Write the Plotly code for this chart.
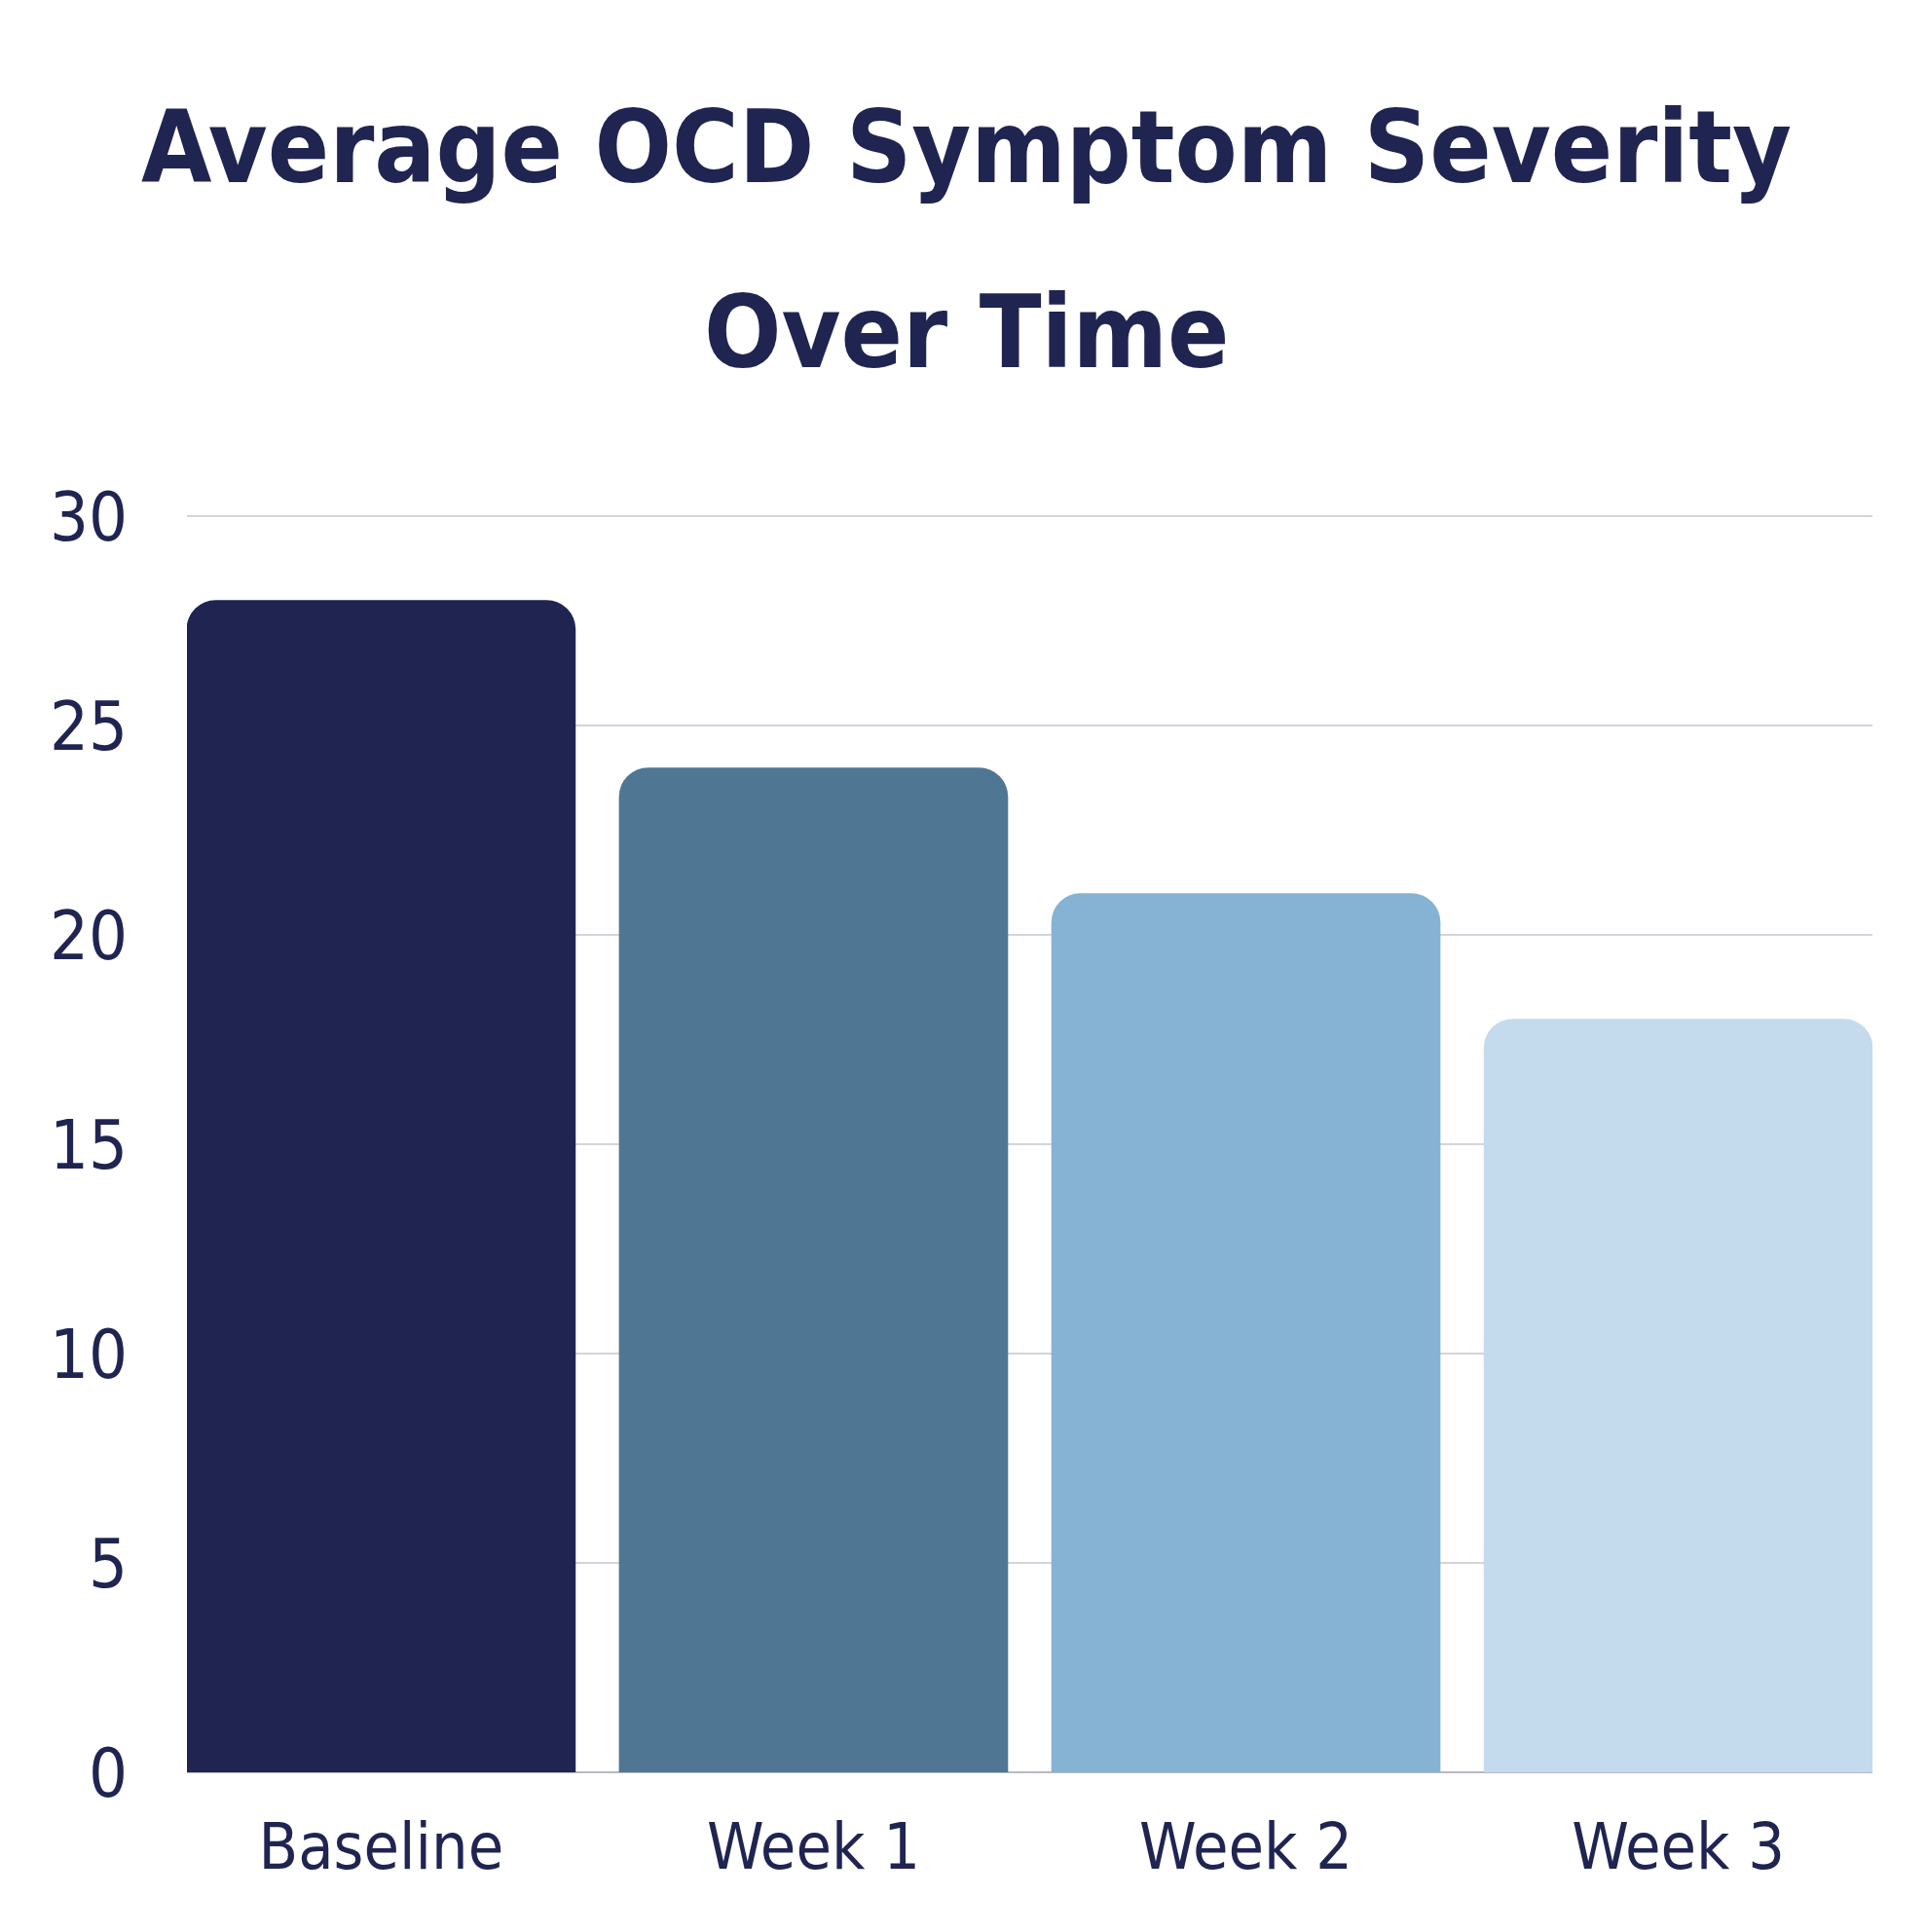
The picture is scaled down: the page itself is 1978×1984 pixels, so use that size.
import plotly.graph_objects as go

# Data
categories = ["Baseline", "Week 1", "Week 2", "Week 3"]
severity = [28, 24, 21, 18]
bar_colors = ["#1F2451", "#4F7793", "#86B3D3", "#C4DBED"]
y_ticks = [0, 5, 10, 15, 20, 25, 30]
title_lines = ["Average OCD Symptom Severity", "Over Time"]

text_color = "#1F2451"
font_family = "DejaVu Sans Condensed"

fig = go.Figure()

fig.add_trace(go.Bar(
    x=categories,
    y=severity,
    marker=dict(color=bar_colors, cornerradius=30, line=dict(width=0)),
    hoverinfo="x+y",
))

# title drawn as two lines so the line spacing can match the reference
for text, ypos in zip(title_lines, [1.290, 1.143]):
    fig.add_annotation(
        text=f"<b>{text}</b>",
        xref="paper", yref="paper",
        x=0.4625, y=ypos,
        xanchor="center", yanchor="middle",
        showarrow=False,
        font=dict(family=font_family, size=104, color=text_color),
    )

fig.update_layout(
    width=1978,
    height=1984,
    paper_bgcolor="white",
    plot_bgcolor="white",
    showlegend=False,
    bargap=0.1,
    margin=dict(l=184, r=63, t=518, b=172),
    font=dict(family=font_family, color=text_color),
)

fig.update_xaxes(
    range=[-0.449, 3.449],
    showgrid=False,
    tickfont=dict(size=66, color=text_color),
    ticks="",
    ticklabelstandoff=32,
)

fig.update_yaxes(
    range=[0, 30.1],
    tickvals=y_ticks,
    showgrid=True,
    gridcolor="#D4D4DC",
    gridwidth=2,
    zeroline=True,
    zerolinecolor="#B8B8C4",
    zerolinewidth=2,
    tickfont=dict(size=70, color=text_color),
    ticks="",
    ticklabelstandoff=60,
)

fig.write_html("out.html")
